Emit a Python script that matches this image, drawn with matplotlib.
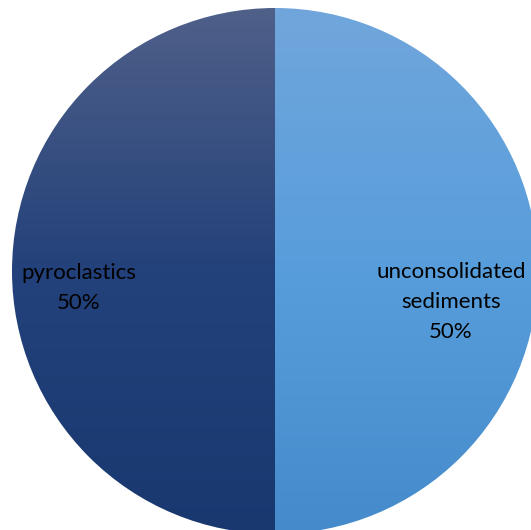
import numpy as np
import matplotlib
matplotlib.use("Agg")
import matplotlib.pyplot as plt
from matplotlib.colors import LinearSegmentedColormap

# Data
categories = ["unconsolidated sediments", "pyroclastics"]
values = [50, 50]
label_lines = ["unconsolidated\nsediments\n50%", "pyroclastics\n50%"]

# Vertical gradients per slice (top, middle, bottom colours)
gradients = [("#70A6DC", "#589DDB", "#458BCB"),
             ("#4F6089", "#23417A", "#1A3870")]

W, H = 531, 530
fig = plt.figure(figsize=(W / 100, H / 100), dpi=100)
ax = fig.add_axes([0, 0, 1, 1])

cx, cy, r = 275, 530 - 271, 263
wedges, _ = ax.pie(values, startangle=90, counterclock=False,
                   center=(cx, cy), radius=r, frame=True,
                   wedgeprops=dict(linewidth=0))

grad = np.linspace(1, 0, 256).reshape(-1, 1)
for w, (top, mid, bot) in zip(wedges, gradients):
    w.set_facecolor("none")
    cmap = LinearSegmentedColormap.from_list("g", [bot, mid, top])
    im = ax.imshow(grad, cmap=cmap, aspect="auto",
                   extent=(cx - r, cx + r, cy - r, cy + r),
                   origin="upper", zorder=1)
    im.set_clip_path(w)

font = ["Lato", "DejaVu Sans"]
ax.text(451, 530 - 302, label_lines[0], ha="center", va="center",
        fontsize=16, family=font, linespacing=1.6, color="black", zorder=3)
ax.text(79, 530 - 288, label_lines[1], ha="center", va="center",
        fontsize=16, family=font, linespacing=1.6, color="black", zorder=3)

ax.set_xlim(0, W)
ax.set_ylim(0, H)
ax.set_aspect("auto")
ax.axis("off")

fig.savefig("out.png", dpi=100)
